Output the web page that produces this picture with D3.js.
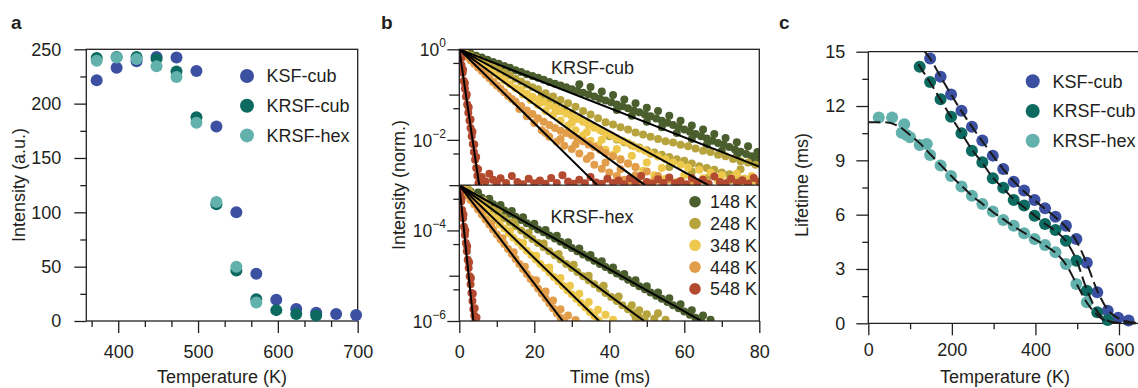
<!DOCTYPE html>
<html><head><meta charset="utf-8">
<script src="https://cdn.jsdelivr.net/npm/d3@7"></script>
<style>
body{margin:0;background:#fff}
text{font-family:"Liberation Sans",Arial,Helvetica,sans-serif;fill:#231f20}
</style>
</head><body>
<svg id="chart" width="1138" height="388"></svg>
<script>
// ================= DATA =================
// Panel a: integrated intensity vs temperature
const tempA = [373,398,423,448,473,498,523,548,573,598,623,648,673,698];
const ksfCubA  = [221.5,233,239,243,242.5,230,179,100,43.5,19.5,11,7.5,6.5,5.5];
const krsfCubA = [242,243,243,241,229.5,187.5,107.5,46.5,20,10,6.5,5,null,null];
const krsfHexA = [239.5,242.5,241,234.5,224.5,182.5,109.5,50,17,null,null,null,null,null];
const seriesNames = ["KSF-cub","KRSF-cub","KRSF-hex"];
const seriesColors = ["#3c50a2","#0c6a60","#63b1ac"];
const tickAx = [400,500,600,700];
const tickAy = [0,50,100,150,200,250];

// Panel b: decay curves, [time (ms), log10 normalized intensity]
const decayLabels = ["148 K","248 K","348 K","448 K","548 K"];
const decayColors = ["#4b5e2d","#b6a33c","#eec84c","#e29d4b","#b34a2f"];
const cub148 = [[0,0],[1.5,-0.04],[3,-0.09],[4.5,-0.14],[6,-0.18],[7.5,-0.23],[9,-0.28],[10.5,-0.32],[12,-0.37],[13.5,-0.41],[15,-0.46],[16.5,-0.50],[18,-0.55],[19.5,-0.59],[21,-0.63],[22.5,-0.67],[24,-0.72],[25.5,-0.76],[27,-0.80],[28.5,-0.84],[30,-0.88],[31.5,-0.92],[33,-0.96],[34.5,-1.00],[36,-1.04],[37.5,-1.09],[39,-1.13],[40.5,-1.17],[42,-1.22],[43.5,-1.26],[45,-1.30],[46.5,-1.35],[48,-1.39],[49.5,-1.44],[51,-1.48],[52.5,-1.53],[54,-1.58],[55.5,-1.62],[57,-1.67],[58.5,-1.72],[60,-1.77],[61.5,-1.82],[63,-1.87],[64.5,-1.92],[66,-1.97],[67.5,-2.02],[69,-2.07],[70.5,-2.11],[72,-2.16],[73.5,-2.21],[75,-2.26],[76.5,-2.31],[78,-2.36],[79.5,-2.41],
 [32,-0.77],[35,-0.83],[38,-0.93],[41,-1.01],[44,-1.11],[47,-1.19],[50,-1.29],[53,-1.36],[56,-1.47],[59,-1.58],[62,-1.68],[65,-1.77],[68,-1.87],[71,-1.96],[74,-2.05],[77,-2.14],[79.5,-2.27],
 [42,-1.34],[46,-1.47],[50,-1.60],[54,-1.72],[58,-1.85],[62,-1.98],[66,-2.11],[70,-2.24],[74,-2.36],[78,-2.49]];
const cub248 = [[0,0],[1.5,-0.06],[3,-0.13],[4.5,-0.19],[6,-0.26],[7.5,-0.32],[9,-0.39],[10.5,-0.45],[12,-0.52],[13.5,-0.58],[15,-0.65],[16.5,-0.71],[18,-0.78],[19.5,-0.84],
 [21,-0.88],[23,-0.97],[25,-1.04],[27,-1.12],[29,-1.19],[31,-1.27],[33,-1.36],[35,-1.44],[37,-1.52],[39,-1.61],[41,-1.66],[43,-1.72],[45,-1.77],[47,-1.84],[49,-1.88],[51,-1.93],[53,-1.98],[55,-2.03],[57,-2.06],[59,-2.11],[61,-2.14],[63,-2.19],[65,-2.24],[67,-2.27],[69,-2.33],[71,-2.36],[73,-2.42],[75,-2.47],[77,-2.50],[79,-2.55],
 [22,-1.02],[24,-1.11],[26,-1.20],[28,-1.31],[30,-1.42],[32,-1.52],[34,-1.61],[36,-1.71],[38,-1.80],[40,-1.92],[42,-1.99],[44,-2.05],[46,-2.12],[48,-2.17],[50,-2.23],[52,-2.28],[54,-2.33],[56,-2.38],[58,-2.43],[60,-2.46],[62,-2.52],[64,-2.58],[66,-2.62],[68,-2.66],[70,-2.72],[72,-2.76],[74,-2.80],[76,-2.86],[78,-2.91],[80,-2.95],
 [56,-2.60],[62,-2.70],[66,-2.85],[72,-2.90],[75,-2.65]];
const cub348 = [[0,0],[1.5,-0.08],[3,-0.17],[4.5,-0.26],[6,-0.34],[7.5,-0.43],[9,-0.52],[10.5,-0.60],[12,-0.69],[13.5,-0.77],[15,-0.86],
 [16.5,-0.90],[18,-0.98],[19.5,-1.05],[21,-1.11],[22.5,-1.17],[24,-1.24],[25.5,-1.29],[27,-1.36],[28.5,-1.42],[30,-1.48],[31.5,-1.54],[33,-1.60],[34.5,-1.67],[36,-1.73],[37.5,-1.78],[39,-1.85],[40.5,-1.90],[42,-1.97],[43.5,-2.02],[45,-2.07],[46.5,-2.14],[48,-2.19],[49.5,-2.24],[51,-2.31],[53,-2.37],[55,-2.43],[57,-2.50],[59,-2.55],[61,-2.61],[64,-2.66],[67,-2.72],[70,-2.78],[73,-2.83],[76,-2.86],[79,-2.90],
 [17,-1.00],[19,-1.12],[21,-1.23],[23,-1.36],[25,-1.45],[27,-1.57],[29,-1.68],[31,-1.79],[33,-1.90],[35,-2.02],[37,-2.12],[39,-2.22],[41,-2.33],[43,-2.42],[45,-2.52],[47,-2.60],[49,-2.68],[52,-2.78],[55,-2.86],[58,-2.93],[62,-2.97],[66,-2.95],[71,-2.98],[75,-2.93],
 [26,-1.37],[30,-1.62],[34,-1.83],[38,-2.00],[42,-2.20],[46,-2.35],[50,-2.50],[54,-2.62],[60,-2.78],[65,-2.85],[69,-2.90],[74,-2.75],[78,-2.80]];
const cub448 = [[0,0],[1,-0.08],[2,-0.16],[3,-0.24],[4,-0.32],[5,-0.40],[6,-0.48],[7,-0.56],[8,-0.64],[9,-0.72],[10,-0.80],[11,-0.87],[12,-0.95],[13,-1.03],[14,-1.10],
 [15,-1.16],[16.5,-1.25],[18,-1.35],[19.5,-1.43],[21,-1.52],[22.5,-1.60],[24,-1.67],[25.5,-1.74],[27,-1.80],[28.5,-1.85],[30,-1.90],[31.5,-1.97],[33,-2.03],[34.5,-2.10],[36,-2.16],[37.5,-2.22],[39,-2.29],[41,-2.36],[43,-2.44],[45,-2.52],[47,-2.60],[50,-2.70],[53,-2.80],[56,-2.88],
 [16,-1.32],[18,-1.48],[20,-1.63],[22,-1.79],[24,-1.93],[26,-2.04],[28,-2.13],[30,-2.20],[32,-2.30],[34,-2.42],[36,-2.55],[38,-2.64],[40,-2.72],[42,-2.80],[44,-2.88],[46,-2.93],[48,-2.97],[51,-2.95],[54,-2.98],
 [23,-1.85],[27,-1.98],[31,-2.10],[35,-2.35],[39,-2.50],[43,-2.65],[47,-2.78],[52,-2.90],[58,-2.95],[62,-2.97]];
const cub548 = [[0,0],[0.3,-0.17],[0.6,-0.35],[0.9,-0.52],[1.2,-0.70],[1.5,-0.87],[1.8,-1.05],[2.1,-1.22],[2.4,-1.40],[2.7,-1.57],[3,-1.74],[3.3,-1.92],[3.6,-2.09],[3.9,-2.27],[4.2,-2.44],[4.5,-2.62],[4.8,-2.79],[5.1,-2.96],
 [0.5,-0.20],[1,-0.45],[1.5,-0.75],[2,-1.00],[2.5,-1.28],[3,-1.55],[3.5,-1.82],[4,-2.10],[4.5,-2.38],[5,-2.65],[5.5,-2.85],
 [6,-2.82],[7,-2.92],[8,-2.75],[9,-2.88],[10,-2.97],[11,-2.85],[12.5,-2.95],[14,-2.80],[15.5,-2.93],[17,-2.98],[18.5,-2.86],[20,-2.96],[21.5,-2.90],[23,-2.97],[24.5,-2.84],[26,-2.95],[27.5,-2.78],[29,-2.92],[30.5,-2.97],[32,-2.88],[33.5,-2.96],[35,-2.82],[36.5,-2.94],[38,-2.97],[39.5,-2.86],[41,-2.95],[42.5,-2.90],[44,-2.98],[45.5,-2.85],[47,-2.95],[48.5,-2.80],[50,-2.93],[51.5,-2.97],[53,-2.87],[54.5,-2.95],[56,-2.83],[57.5,-2.96],[59,-2.91],[60.5,-2.98],[62,-2.84],[63.5,-2.94],[65,-2.88],[66.5,-2.97],[68,-2.81],[69.5,-2.93],[71,-2.96],[72.5,-2.86],[74,-2.95],[75.5,-2.89],[77,-2.97],[78.5,-2.84],[80,-2.93]];
const hex148 = [[0,0],[1.5,-0.07],[3,-0.14],[4.5,-0.21],[6,-0.28],[7.5,-0.35],[9,-0.42],[10.5,-0.49],[12,-0.56],[13.5,-0.63],[15,-0.70],[16.5,-0.77],[18,-0.84],[19.5,-0.91],[21,-0.98],[22.5,-1.04],[24,-1.11],[25.5,-1.18],[27,-1.25],[28.5,-1.32],[30,-1.39],[31.5,-1.46],[33,-1.53],[34.5,-1.60],[36,-1.67],[37.5,-1.74],[39,-1.81],[40.5,-1.88],[42,-1.95],[43.5,-2.02],[45,-2.09],[46.5,-2.16],[48,-2.23],[49.5,-2.30],[51,-2.37],[52.5,-2.44],[54,-2.51],[55.5,-2.58],[57,-2.65],[58.5,-2.72],[60,-2.79],[61.5,-2.86],[63,-2.93],[64.5,-3.00],
 [2,-0.02],[5,-0.16],[8,-0.30],[11,-0.44],[14,-0.57],[17,-0.71],[20,-0.85],[23,-0.99],[26,-1.12],[29,-1.26],[32,-1.40],[35,-1.54],[38,-1.68],[41,-1.82],[44,-1.96],[47,-2.10],[50,-2.23],[53,-2.37],[56,-2.50],[59,-2.63],[62,-2.76],[65,-2.88],[67,-2.97]];
const hex248 = [[0,0],[1.5,-0.09],[3,-0.18],[4.5,-0.27],[6,-0.37],[7.5,-0.46],[9,-0.55],[10.5,-0.64],[12,-0.73],[13.5,-0.82],[15,-0.91],[16.5,-1.00],[18,-1.10],[19.5,-1.19],[21,-1.28],[22.5,-1.37],[24,-1.46],[25.5,-1.55],[27,-1.64],[28.5,-1.74],[30,-1.83],[31.5,-1.92],[33,-2.01],[34.5,-2.10],[36,-2.19],[37.5,-2.28],[39,-2.38],[40.5,-2.47],[42,-2.56],[43.5,-2.65],[45,-2.74],[46.5,-2.83],[48,-2.92],[49.5,-3.00],
 [2.5,-0.10],[6.5,-0.34],[10.5,-0.57],[14.5,-0.82],[18.5,-1.05],[22.5,-1.29],[26.5,-1.52],[30.5,-1.76],[34.5,-2.00],[38.5,-2.22],[42.5,-2.46],[46,-2.65],[48,-2.76],[50,-2.85],[52,-2.95],[47,-2.92],[53,-2.83],[55,-2.97]];
const hex348 = [[0,0],[1.2,-0.10],[2.4,-0.19],[3.6,-0.29],[4.8,-0.39],[6,-0.48],[7.2,-0.58],[8.4,-0.68],[9.6,-0.77],[10.8,-0.87],[12,-0.96],[13.2,-1.06],[14.4,-1.16],[15.6,-1.25],[16.8,-1.35],[18,-1.45],[19.2,-1.54],[20.4,-1.64],[21.6,-1.74],[22.8,-1.83],[24,-1.93],[25.2,-2.03],[26.4,-2.12],[27.6,-2.22],[28.8,-2.32],[30,-2.41],[31.2,-2.51],[32.4,-2.60],[33.6,-2.70],[34.8,-2.80],[36,-2.89],[37.2,-2.99],
 [3,-0.20],[6.5,-0.47],[10,-0.74],[13.5,-1.01],[17,-1.28],[20.5,-1.56],[24,-1.82],[27,-2.05],[29.5,-2.22],[32,-2.40],[34.5,-2.58],[37,-2.75],[39,-2.86],[41,-2.97]];
const hex448 = [[0,0],[1,-0.11],[2,-0.22],[3,-0.33],[4,-0.43],[5,-0.54],[6,-0.65],[7,-0.76],[8,-0.87],[9,-0.98],[10,-1.09],[11,-1.20],[12,-1.30],[13,-1.41],[14,-1.52],[15,-1.63],[16,-1.74],[17,-1.85],[18,-1.96],[19,-2.07],[20,-2.17],[21,-2.28],[22,-2.39],[23,-2.50],[24,-2.61],[25,-2.72],[26,-2.83],[27,-2.93],[28,-3.00],
 [2.5,-0.22],[5.5,-0.53],[8.5,-0.85],[11.5,-1.17],[14.5,-1.48],[17.5,-1.80],[20.5,-2.10],[23,-2.35],[25,-2.55],[27,-2.74],[29,-2.88],[31,-2.98]];
const hex548 = [[0,0],[0.25,-0.17],[0.5,-0.36],[0.75,-0.55],[1,-0.73],[1.25,-0.92],[1.5,-1.10],[1.75,-1.28],[2,-1.46],[2.25,-1.65],[2.5,-1.83],[2.75,-2.01],[3,-2.19],[3.25,-2.38],[3.5,-2.56],[3.75,-2.74],[4,-2.88],[4.3,-2.97],
 [0.6,-0.30],[1.1,-0.65],[1.6,-1.00],[2.1,-1.35],[2.6,-1.70],[3.1,-2.05],[3.6,-2.40],[4.1,-2.72],[4.6,-2.92]];
// fit lines: end point [time, log10 I]; every fit starts at [0, 0]
const fitEndCub = [[80,-2.59],[66.4,-3],[49.5,-3],[36.8,-3],[5.3,-3]];
const fitEndHex = [[64.6,-3],[49.3,-3],[37.3,-3],[27.6,-3],[3.75,-3]];
const tickBx = [0,20,40,60,80];
const tickBxMinor = [10,30,50,70];
const tickByLabel = [0,-2,-4,-6];

// Panel c: lifetime vs temperature
const tempKSF = [148,173,198,223,248,273,298,323,348,373,398,423,448,473,498,523,548,573,598,623];
const lifeKSF = [14.63,13.62,12.64,11.74,10.86,10.09,9.26,8.52,7.82,7.33,6.81,6.35,5.89,5.39,4.66,3.35,1.71,0.70,0.31,0.15];
const tempKRSFcub = [123,148,173,198,223,248,273,298,323,348,373,398,423,448,473,498,523,548,573];
const lifeKRSFcub = [14.17,13.33,12.37,11.41,10.49,9.53,8.89,8.01,7.49,6.81,6.50,5.94,5.48,5.15,4.56,3.46,1.80,0.61,0.18];
const tempKRSFhex = [25,57,86,80,92,100,123,140,148,173,198,223,248,273,298,323,348,373,398,423,448,473,498,523];
const lifeKRSFhex = [11.37,11.37,11.0,10.53,10.4,10.27,9.85,9.9,9.29,8.71,8.14,7.55,7.05,6.59,6.17,5.71,5.39,4.97,4.66,4.33,3.92,3.28,2.17,1.16];
const fitKSF = [[135,15.0],[148,14.62],[173,13.62],[198,12.64],[223,11.72],[248,10.86],[273,10.05],[298,9.27],[323,8.52],[348,7.85],[373,7.28],[398,6.79],[423,6.32],[448,5.85],[473,5.32],[498,4.55],[523,3.30],[548,1.80],[573,0.75],[598,0.28],[623,0.08],[650,0.02]];
const fitKRSFcub = [[120,14.3],[148,13.3],[173,12.35],[198,11.4],[223,10.5],[248,9.6],[273,8.85],[298,8.05],[323,7.45],[348,6.85],[373,6.4],[398,5.95],[423,5.5],[448,5.1],[473,4.55],[498,3.5],[523,1.85],[548,0.65],[573,0.15],[598,0.03],[625,0.0],[650,0.0]];
const fitKRSFhex = [[0,11.1],[40,11.1],[75,10.85],[100,10.4],[123,9.95],[148,9.35],[173,8.75],[198,8.15],[223,7.6],[248,7.05],[273,6.6],[298,6.15],[323,5.75],[348,5.35],[373,5.0],[398,4.65],[423,4.3],[448,3.9],[473,3.25],[498,2.2],[523,1.15],[548,0.45],[573,0.1],[600,0.01],[640,0.0]];
const tickCx = [0,200,400,600];
const tickCxMinor = [100,300,500];
const tickCy = [0,3,6,9,12,15];
const tickCyMinor = [1.5,4.5,7.5,10.5,13.5];

// ================= DRAW =================
const svg = d3.select("#chart");
const INK = "#231f20";
const FS = 18;

function axisStyle(g, fs){
  g.selectAll("path.domain").remove();
  g.selectAll("line").attr("stroke", INK).attr("stroke-width", 1.3);
  g.selectAll("text").attr("font-size", fs||FS).attr("fill", INK)
   .attr("font-family", '"Liberation Sans",Arial,sans-serif');
}
function panelLabel(x, t){
  svg.append("text").attr("x", x).attr("y", 29).attr("font-size", 19)
    .attr("font-weight", "bold").text(t);
}
function frameLine(x1,y1,x2,y2){
  svg.append("line").attr("x1",x1).attr("y1",y1).attr("x2",x2).attr("y2",y2)
    .attr("stroke",INK).attr("stroke-width",1.3);
}

// ---------- Panel a ----------
const xA = d3.scaleLinear().domain([360,700]).range([86.3,357.7]);
const yA = d3.scaleLinear().domain([0,250]).range([321,49.3]);
panelLabel(11, "a");
svg.append("g").attr("transform","translate(0,321)")
  .call(d3.axisBottom(xA).tickValues(tickAx).tickSize(12).tickPadding(12).tickFormat(d3.format("d")))
  .call(g=>axisStyle(g));
svg.append("g").attr("transform","translate(0,321)")
  .call(d3.axisBottom(xA).tickValues([366.667,433.333,466.667,533.333,566.667,633.333,666.667]).tickSize(6).tickFormat(""))
  .call(g=>axisStyle(g));
svg.append("g").attr("transform","translate(86.3,0)")
  .call(d3.axisLeft(yA).tickValues(tickAy).tickSize(12).tickPadding(13).tickFormat(d3.format("d")))
  .call(g=>axisStyle(g));
svg.append("g").attr("transform","translate(86.3,0)")
  .call(d3.axisLeft(yA).tickValues([25,75,125,175,225]).tickSize(6).tickFormat(""))
  .call(g=>axisStyle(g));
svg.append("rect").attr("x",86.3).attr("y",49.3).attr("width",357.7-86.3).attr("height",321-49.3)
  .attr("fill","none").attr("stroke",INK).attr("stroke-width",1.3);
const aSeries = [ksfCubA, krsfCubA, krsfHexA];
const gA = svg.append("g");
aSeries.forEach((vals,i)=>{
  gA.selectAll(null).data(tempA.map((t,j)=>[t,vals[j]]).filter(d=>d[1]!=null))
    .join("circle").attr("cx",d=>xA(d[0])).attr("cy",d=>yA(d[1])).attr("r",6).attr("fill",seriesColors[i]);
});
seriesNames.forEach((n,i)=>{
  svg.append("circle").attr("cx",247).attr("cy",76+i*29.7).attr("r",7).attr("fill",seriesColors[i]);
  svg.append("text").attr("x",266.5).attr("y",76+i*29.7).attr("dy","0.36em").attr("font-size",FS).text(n);
});
svg.append("text").attr("transform","translate(24.5,185) rotate(-90)").attr("text-anchor","middle")
  .attr("font-size",FS).text("Intensity (a.u.)");
svg.append("text").attr("x",222).attr("y",382.5).attr("text-anchor","middle").attr("font-size",FS).text("Temperature (K)");

// ---------- Panel b ----------
const xB = d3.scaleLinear().domain([0,80]).range([459.3,759.3]);
const yB = d3.scaleLog().domain([1,1e-6]).range([49.3,321]);
const yMid = yB(1e-3);
const RB = 4;
panelLabel(381, "b");
const defs = svg.append("defs");
defs.append("clipPath").attr("id","clipTop").append("rect")
  .attr("x",459.3).attr("y",49.3).attr("width",300).attr("height",yMid-49.3);
defs.append("clipPath").attr("id","clipBot").append("rect")
  .attr("x",459.3).attr("y",yMid).attr("width",300).attr("height",321-yMid);
const cubSeries = [cub148,cub248,cub348,cub448,cub548];
const hexSeries = [hex148,hex248,hex348,hex448,hex548];
const gTop = svg.append("g").attr("clip-path","url(#clipTop)");
const gBot = svg.append("g").attr("clip-path","url(#clipBot)");
cubSeries.forEach((s,i)=>{
  gTop.selectAll(null).data(s).join("circle")
    .attr("cx",d=>xB(d[0])).attr("cy",d=>yB(Math.pow(10,d[1]))).attr("r",RB).attr("fill",decayColors[i]);
});
hexSeries.forEach((s,i)=>{
  gBot.selectAll(null).data(s).join("circle")
    .attr("cx",d=>xB(d[0])).attr("cy",d=>yB(Math.pow(10,d[1]-3))).attr("r",RB).attr("fill",decayColors[i]);
});
const lineB = d3.line().x(d=>xB(d[0])).y(d=>yB(Math.pow(10,d[1])));
fitEndCub.forEach(e=>{
  gTop.append("path").attr("d",lineB([[0,0],e])).attr("stroke","#000").attr("stroke-width",2).attr("fill","none");
});
fitEndHex.forEach(e=>{
  gBot.append("path").attr("d",lineB([[0,-3],[e[0],e[1]-3]])).attr("stroke","#000").attr("stroke-width",2).attr("fill","none");
});
svg.append("g").attr("transform","translate(0,321)")
  .call(d3.axisBottom(xB).tickValues(tickBx).tickSize(12).tickPadding(12).tickFormat(d3.format("d")))
  .call(g=>axisStyle(g));
svg.append("g").attr("transform","translate(0,321)")
  .call(d3.axisBottom(xB).tickValues(tickBxMinor).tickSize(6).tickFormat(""))
  .call(g=>axisStyle(g));
svg.append("g").attr("transform","translate(459.3,0)")
  .call(d3.axisLeft(yB).tickValues(tickByLabel.map(p=>Math.pow(10,p))).tickSize(12).tickFormat(""))
  .call(g=>axisStyle(g));
svg.append("g").attr("transform","translate(459.3,0)")
  .call(d3.axisLeft(yB).tickValues([1e-1,1e-3,1e-5]).tickSize(10).tickFormat(""))
  .call(g=>axisStyle(g));
svg.append("g").attr("transform","translate(459.3,0)")
  .call(d3.axisLeft(yB).tickValues([0.5,0.05,0.005,5e-4,5e-5,5e-6]).tickSize(6).tickFormat(""))
  .call(g=>axisStyle(g));
tickByLabel.forEach(p=>{
  const t = svg.append("text").attr("x",446).attr("y",yB(Math.pow(10,p))).attr("dy","0.4em")
    .attr("text-anchor","end").attr("font-size",17.5);
  t.append("tspan").text("10");
  t.append("tspan").attr("font-size",12).attr("dy","-0.75em").text(p===0?"0":"\u2212"+(-p));
});
svg.append("rect").attr("x",459.3).attr("y",49.3).attr("width",300).attr("height",321-49.3)
  .attr("fill","none").attr("stroke",INK).attr("stroke-width",1.3);
frameLine(459.3,yMid,759.3,yMid);
svg.append("text").attr("x",592.5).attr("y",74).attr("text-anchor","middle").attr("font-size",FS).text("KRSF-cub");
svg.append("text").attr("x",592).attr("y",222.5).attr("text-anchor","middle").attr("font-size",FS).text("KRSF-hex");
decayLabels.forEach((n,i)=>{
  const cy = 201.7 + i*21.8;
  svg.append("circle").attr("cx",695).attr("cy",cy).attr("r",5.8).attr("fill",decayColors[i]);
  svg.append("text").attr("x",710).attr("y",cy).attr("dy","0.36em").attr("font-size",FS).text(n);
});
svg.append("text").attr("transform","translate(405,185) rotate(-90)").attr("text-anchor","middle")
  .attr("font-size",FS).text("Intensity (norm.)");
svg.append("text").attr("x",610).attr("y",382.5).attr("text-anchor","middle").attr("font-size",FS).text("Time (ms)");

// ---------- Panel c ----------
const xC = d3.scaleLinear().domain([0,650]).range([868.3,868.3+650*0.4178]);
const yC = d3.scaleLinear().domain([0,15]).range([323.3,51.7]);
panelLabel(779, "c");
svg.append("g").attr("transform","translate(0,323.3)")
  .call(d3.axisBottom(xC).tickValues(tickCx).tickSize(12).tickPadding(8).tickFormat(d3.format("d")))
  .call(g=>axisStyle(g));
svg.append("g").attr("transform","translate(0,323.3)")
  .call(d3.axisBottom(xC).tickValues(tickCxMinor).tickSize(6).tickFormat(""))
  .call(g=>axisStyle(g));
svg.append("g").attr("transform","translate(868.3,0)")
  .call(d3.axisLeft(yC).tickValues(tickCy).tickSize(12).tickPadding(11).tickFormat(d3.format("d")))
  .call(g=>axisStyle(g));
svg.append("g").attr("transform","translate(868.3,0)")
  .call(d3.axisLeft(yC).tickValues(tickCyMinor).tickSize(6).tickFormat(""))
  .call(g=>axisStyle(g));
frameLine(868.3,51.7,868.3,323.3);
frameLine(868.3,323.3,1138,323.3);
frameLine(868.3,51.7,1138,51.7);
const cSeries = [[tempKSF,lifeKSF],[tempKRSFcub,lifeKRSFcub],[tempKRSFhex,lifeKRSFhex]];
cSeries.forEach((s,i)=>{
  svg.append("g").selectAll("circle").data(s[0].map((t,j)=>[t,s[1][j]])).join("circle")
    .attr("cx",d=>xC(d[0])).attr("cy",d=>yC(d[1])).attr("r",6).attr("fill",seriesColors[i]);
});
const lineC = d3.line().x(d=>xC(d[0])).y(d=>yC(d[1])).curve(d3.curveMonotoneX);
[fitKSF,fitKRSFcub,fitKRSFhex].forEach(f=>{
  svg.append("path").attr("d",lineC(f)).attr("fill","none").attr("stroke","#1a1a1a")
    .attr("stroke-width",2).attr("stroke-dasharray","12,5");
});
seriesNames.forEach((n,i)=>{
  const cy = 81.3 + i*29.7;
  svg.append("circle").attr("cx",1032.7).attr("cy",cy).attr("r",7).attr("fill",seriesColors[i]);
  svg.append("text").attr("x",1052.5).attr("y",cy).attr("dy","0.36em").attr("font-size",FS).text(n);
});
svg.append("text").attr("transform","translate(808,185) rotate(-90)").attr("text-anchor","middle")
  .attr("font-size",FS).text("Lifetime (ms)");
svg.append("text").attr("x",1005).attr("y",382.5).attr("text-anchor","middle").attr("font-size",FS).text("Temperature (K)");
</script>
</body></html>
